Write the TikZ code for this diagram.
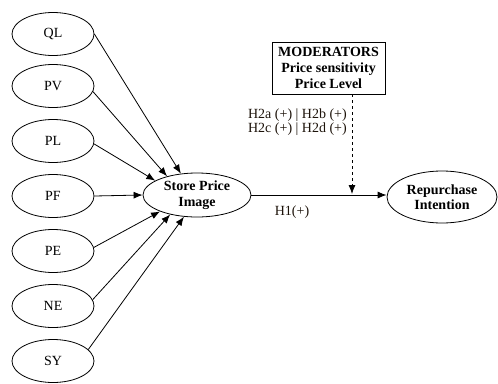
\documentclass[tikz,border=0pt]{standalone}
\usepackage{fontspec}
\setmainfont{Liberation Serif}
\usetikzlibrary{shapes.geometric,arrows.meta}
\begin{document}
\begin{tikzpicture}[x=1pt,y=-1pt,
  every node/.style={font=\fontsize{14}{16}\selectfont},
  var/.style={draw,ellipse,line width=0.8pt,minimum width=82pt,minimum height=43pt,inner sep=0pt},
  big/.style={draw,ellipse,line width=0.8pt,inner sep=0pt,align=center,font=\fontsize{14}{15.5}\selectfont\bfseries},
  conn/.style={line width=0.8pt,-{Latex[length=9pt,width=7pt]}},
  lbl/.style={inner sep=0pt,text=black!85!brown}]
\useasboundingbox (0,0) rectangle (498,383);
\node[var] (QL) at (53,34) {QL};
\node[var] (PV) at (53,86) {PV};
\node[var] (PL) at (53,141) {PL};
\node[var] (PF) at (53,196) {PF};
\node[var] (PE) at (53,251) {PE};
\node[var] (NE) at (53,306) {NE};
\node[var] (SY) at (53,361) {SY};
\node[big,minimum width=108pt,minimum height=44pt] (spi) at (197,195) {Store Price\\Image};
\node[big,minimum width=110pt,minimum height=52pt] (rep) at (442,197) {Repurchase\\Intention};
\node[draw,line width=0.8pt,minimum width=113pt,minimum height=52pt,align=center,inner sep=1pt,
  font=\fontsize{14}{16}\selectfont\bfseries] (mod) at (328.5,68) {MODERATORS\\Price sensitivity\\Price Level};
\draw[conn] (QL.east) -- (spi.127);
\draw[conn] (PV.-8) -- (spi.148);
\draw[conn] (PL.-4) -- (spi.161);
\draw[conn] (PF.east) -- (spi.180);
\draw[conn] (PE.5) -- (spi.204);
\draw[conn] (NE.9) -- (spi.216);
\draw[conn] (SY.18) -- (spi.239);
\draw[conn] (spi.east) -- (rep.west |- spi.east);
\coordinate (m) at (352,194);
\draw[line width=0.8pt,dashed,-{Latex[length=9pt,width=7pt]}] (mod.south -| m) -- (m);
\node[lbl,align=right,anchor=east,font=\fontsize{14}{14.5}\selectfont] (h2) at (347,122) {H2a (+) | H2b (+)\\H2c (+) | H2d (+)};
\node[lbl] (h1) at (292,212) {H1(+)};
\end{tikzpicture}
\end{document}
